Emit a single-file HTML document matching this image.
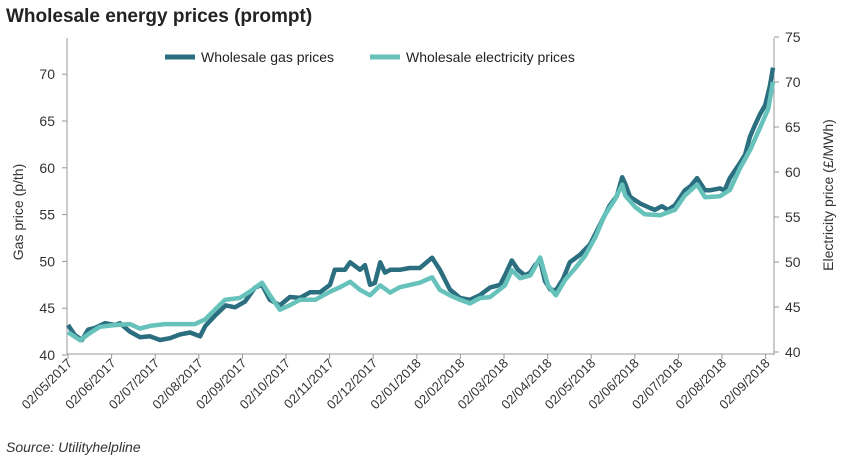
<!DOCTYPE html>
<html><head><meta charset="utf-8"><style>
body{margin:0;background:#fff;width:850px;height:469px;overflow:hidden;font-family:"Liberation Sans",sans-serif}
svg text{font-family:"Liberation Sans",sans-serif}
</style></head><body>
<svg id="c" width="850" height="469">
<text x="6" y="22" font-size="19" font-weight="bold" fill="#222">Wholesale energy prices (prompt)</text>
<text x="6" y="452" font-size="14" font-style="italic" fill="#333">Source: Utilityhelpline</text>
<text transform="translate(23,212) rotate(-90)" text-anchor="middle" font-size="14" fill="#333">Gas price (p/th)</text>
<text transform="translate(833,195) rotate(-90)" text-anchor="middle" font-size="14" fill="#333">Electricity price (£/MWh)</text>
<g>
<line x1="165" y1="57" x2="195" y2="57" stroke="#2a6e7f" stroke-width="5"/>
<text x="201" y="62" font-size="14" fill="#222">Wholesale gas prices</text>
<line x1="370" y1="57" x2="400" y2="57" stroke="#66c2bb" stroke-width="5"/>
<text x="406" y="62" font-size="14" fill="#222">Wholesale electricity prices</text>
</g>
<g id="axes"></g><g id="series"></g>
</svg>
<script>
const xLabels=["02/05/2017","02/06/2017","02/07/2017","02/08/2017","02/09/2017","02/10/2017","02/11/2017","02/12/2017","02/01/2018","02/02/2018","02/03/2018","02/04/2018","02/05/2018","02/06/2018","02/07/2018","02/08/2018","02/09/2018"];
const leftTicks=[40,45,50,55,60,65,70];
const rightTicks=[40,45,50,55,60,65,70,75];
const gasT=[0,.16,.32,.46,.62,.85,1.08,1.19,1.42,1.65,1.88,2.11,2.34,2.57,2.8,3.03,3.15,3.39,3.62,3.83,4.06,4.29,4.45,4.63,4.86,5.09,5.32,5.55,5.78,6.01,6.12,6.35,6.47,6.7,6.81,6.93,7.04,7.16,7.27,7.39,7.61,7.84,8.07,8.35,8.53,8.76,8.99,9.22,9.45,9.68,9.91,10.02,10.18,10.32,10.48,10.6,10.71,10.83,10.94,11.06,11.19,11.35,11.51,11.74,11.97,12.2,12.43,12.59,12.71,12.78,12.89,13.12,13.35,13.46,13.62,13.76,13.92,14.15,14.27,14.43,14.61,14.72,14.95,15.06,15.18,15.41,15.53,15.64,15.76,15.87,15.99,16.1,16.17];
const gasV=[43.2,42.1,41.6,42.7,42.9,43.4,43.2,43.4,42.5,41.9,42.0,41.6,41.8,42.2,42.4,42.0,43.1,44.3,45.3,45.1,45.7,47.2,47.5,45.9,45.3,46.2,46.1,46.7,46.7,47.5,49.1,49.1,49.9,49.1,49.6,47.5,47.7,49.9,48.8,49.1,49.1,49.3,49.3,50.4,49.1,47.0,46.1,45.9,46.4,47.2,47.5,48.5,50.1,49.1,48.5,48.8,49.6,50.1,47.9,47.0,46.9,48.1,49.9,50.7,51.8,53.9,56.0,57.0,59.0,58.3,56.9,56.2,55.7,55.5,55.9,55.5,56.0,57.6,58.0,58.9,57.6,57.6,57.8,57.6,58.9,60.5,61.4,63.3,64.6,65.7,66.7,68.8,70.7];
const elecT=[0,.28,.5,.73,1.08,1.42,1.65,1.88,2.22,2.57,2.91,3.14,3.37,3.6,3.94,4.17,4.45,4.63,4.86,5.09,5.32,5.67,6.01,6.24,6.47,6.7,6.93,7.16,7.39,7.61,8.07,8.35,8.53,8.76,8.99,9.22,9.45,9.68,10.02,10.18,10.37,10.6,10.83,11.01,11.19,11.4,11.63,11.86,12.09,12.31,12.54,12.71,12.78,13.01,13.23,13.58,13.92,14.15,14.43,14.61,14.95,15.18,15.41,15.64,15.87,16.06,16.17];
const elecV=[42.2,41.3,42.1,42.8,43.0,43.1,42.6,42.9,43.1,43.1,43.1,43.6,44.7,45.8,46.0,46.7,47.7,46.3,44.7,45.2,45.8,45.8,46.7,47.2,47.8,46.9,46.3,47.4,46.6,47.2,47.7,48.3,46.9,46.3,45.8,45.4,46.0,46.1,47.4,49.1,48.2,48.5,50.5,47.4,46.3,48.0,49.3,50.7,52.7,55.2,56.9,58.6,57.4,56.1,55.3,55.2,55.8,57.4,58.6,57.2,57.3,58.0,60.4,62.4,64.9,67.0,70.0];
const X0=68,DX=43.6;
const xs=t=>X0+t*DX;
const yL=v=>355-(v-40)*9.36;
const yR=v=>352-(v-40)*9.0;
const NS="http://www.w3.org/2000/svg";
const ax=document.getElementById('axes'),se=document.getElementById('series');
function mk(tag,at,par){const e=document.createElementNS(NS,tag);for(const k in at)e.setAttribute(k,at[k]);par.appendChild(e);return e;}
let l=mk('line',{x1:67,y1:38,x2:67,y2:355,stroke:'#999'},ax);


l=mk('line',{x1:774,y1:38,x2:774,y2:355,stroke:'#999'},ax);


l=mk('line',{x1:67,y1:354,x2:774,y2:354,stroke:'#999'},ax);


leftTicks.forEach(v=>{const y=yL(v);mk('line',{x1:62,y1:y,x2:67,y2:y,stroke:'#999'},ax);
const t=mk('text',{x:55,y:y+5,'text-anchor':'end','font-size':14,fill:'#333'},ax);t.textContent=v;

});
rightTicks.forEach(v=>{const y=yR(v);mk('line',{x1:774,y1:y,x2:779,y2:y,stroke:'#999'},ax);
const t=mk('text',{x:785,y:y+5,'font-size':14,fill:'#333'},ax);t.textContent=v;

});
xLabels.forEach((s,i)=>{const x=xs(i);mk('line',{x1:x,y1:354,x2:x,y2:359,stroke:'#999'},ax);
const t=mk('text',{x:0,y:0,'text-anchor':'end','font-size':13,fill:'#333',transform:`translate(${x+5},${364}) rotate(-45)`},ax);t.textContent=s;

});
function path(T,V,yf,col,name){const n=Math.min(T.length,V.length);const d=T.slice(0,n).map((t,i)=>(i?'L':'M')+xs(t).toFixed(1)+','+yf(V[i]).toFixed(1)).join('');
const p=mk('path',{d:d,fill:'none',stroke:col,'stroke-width':4.5,'stroke-linejoin':'round'},se);

}
path(gasT,gasV,yL,'#2a6e7f','gas-price-line');
path(elecT,elecV,yR,'#66c2bb','electricity-price-line');
</script>
</body></html>
